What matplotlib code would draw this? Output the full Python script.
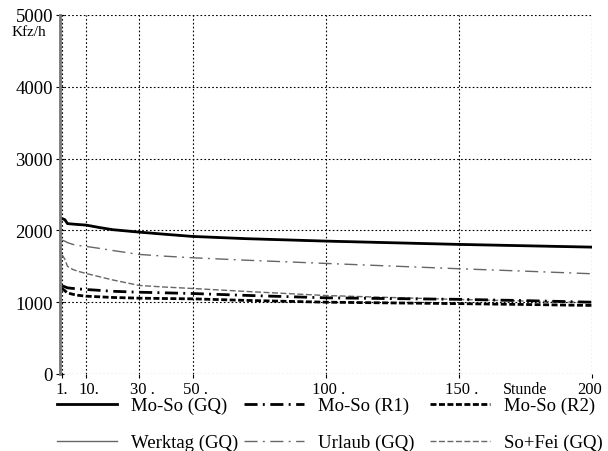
import matplotlib
matplotlib.use('Agg')
import matplotlib.pyplot as plt
import matplotlib.transforms as mtransforms

plt.rcParams['font.family'] = ['Liberation Serif', 'DejaVu Serif']
plt.rcParams['lines.scale_dashes'] = False

# Stunden (Rang) und Verkehrsstärken in Kfz/h
stunde = [1, 2, 3, 5, 7, 10, 15, 20, 30, 40, 50, 70, 100, 125, 150, 175, 200]

mo_so_gq = [2163, 2150, 2095, 2088, 2082, 2074, 2040, 2010, 1976, 1945, 1916, 1885, 1851, 1828, 1805, 1786, 1767]
werktag_gq = [2160, 2148, 2093, 2086, 2080, 2072, 2038, 2008, 1974, 1943, 1914, 1883, 1849, 1826, 1803, 1784, 1765]
urlaub_gq = [1865, 1850, 1830, 1805, 1790, 1777, 1750, 1720, 1665, 1640, 1619, 1585, 1540, 1503, 1466, 1432, 1396]
so_fei_gq = [1660, 1600, 1500, 1456, 1430, 1400, 1355, 1310, 1233, 1210, 1191, 1150, 1093, 1065, 1038, 1016, 996]
mo_so_r1 = [1228, 1215, 1200, 1192, 1185, 1177, 1165, 1152, 1139, 1130, 1121, 1095, 1061, 1050, 1040, 1022, 1000]
mo_so_r2 = [1190, 1160, 1130, 1110, 1096, 1084, 1075, 1066, 1056, 1051, 1047, 1025, 1000, 990, 980, 968, 955]

y_ticks = [0, 1000, 2000, 3000, 4000, 5000]
x_ticks = [1, 10, 30, 50, 100, 150, 200]
x_labels = ['1.', '10.', '30 .', '50 .', '100 .', '150 .', '200']

fig = plt.figure(figsize=(6.08, 4.52), dpi=100)
ax = fig.add_axes([60 / 608, 77 / 452, 532 / 608, 359 / 452])

gray = '#666666'
dashdot = (0, (9.4, 3.8, 1.4, 4.0))
dashed = (0, (4.3, 1.8))

l_wt, = ax.plot(stunde, werktag_gq, color=gray, lw=1.0, label='Werktag (GQ)')
l_ur, = ax.plot(stunde, urlaub_gq, color=gray, lw=1.0, linestyle=dashdot, label='Urlaub (GQ)')
l_sf, = ax.plot(stunde, so_fei_gq, color=gray, lw=1.0, linestyle=dashed, label='So+Fei (GQ)')
l_gq, = ax.plot(stunde, mo_so_gq, color='black', lw=2.0, label='Mo-So (GQ)')
l_r1, = ax.plot(stunde, mo_so_r1, color='black', lw=2.0, linestyle=dashdot, label='Mo-So (R1)')
l_r2, = ax.plot(stunde, mo_so_r2, color='black', lw=2.0, linestyle=dashed, label='Mo-So (R2)')

ax.set_xlim(0.2, 200)
ax.set_ylim(0, 5000)
ax.set_yticks(y_ticks)
ax.set_xticks(x_ticks)
ax.set_xticklabels(x_labels)
ax.grid(True, color='black', linestyle=(0, (1.2, 1.6)), lw=0.8)
ax.set_axisbelow(True)

for s in ['top', 'right', 'bottom']:
    ax.spines[s].set_visible(False)
ax.spines['left'].set_color('#777777')
ax.spines['left'].set_linewidth(2.0)

ax.tick_params(axis='y', direction='inout', length=6, width=0.8, labelsize=13.5, pad=2)
ax.tick_params(axis='x', direction='out', length=3, width=0.8, labelsize=12, pad=2)

off = mtransforms.ScaledTranslation(3 / 100, 0, fig.dpi_scale_trans)
for lab in ax.get_xticklabels():
    if lab.get_text().endswith('.') and len(lab.get_text()) > 2:
        lab.set_transform(lab.get_transform() + off)
    if lab.get_text() == '200':
        lab.set_transform(lab.get_transform() + mtransforms.ScaledTranslation(-2 / 100, 0, fig.dpi_scale_trans))

ax.text(175, -0.02, 'Stunde', transform=ax.get_xaxis_transform(), ha='center', va='top', fontsize=11.5)
fig.text(12 / 608, 1 - 33 / 452, 'Kfz/h', ha='left', va='center', fontsize=11)

# drei Legendenspalten, jeweils zwei Zeilen
groups = [(l_gq, l_wt), (l_r1, l_ur), (l_r2, l_sf)]
col_x = [57, 244, 430]
for hs, cx in zip(groups, col_x):
    fig.legend(handles=list(hs), labels=[h.get_label() for h in hs],
               loc='upper left', bbox_to_anchor=(cx / 608, 1 - 398 / 452),
               frameon=False, fontsize=13.5, handlelength=3.2, handletextpad=0.75,
               labelspacing=1.05, borderpad=0, borderaxespad=0)

fig.savefig('out.png', dpi=100)
